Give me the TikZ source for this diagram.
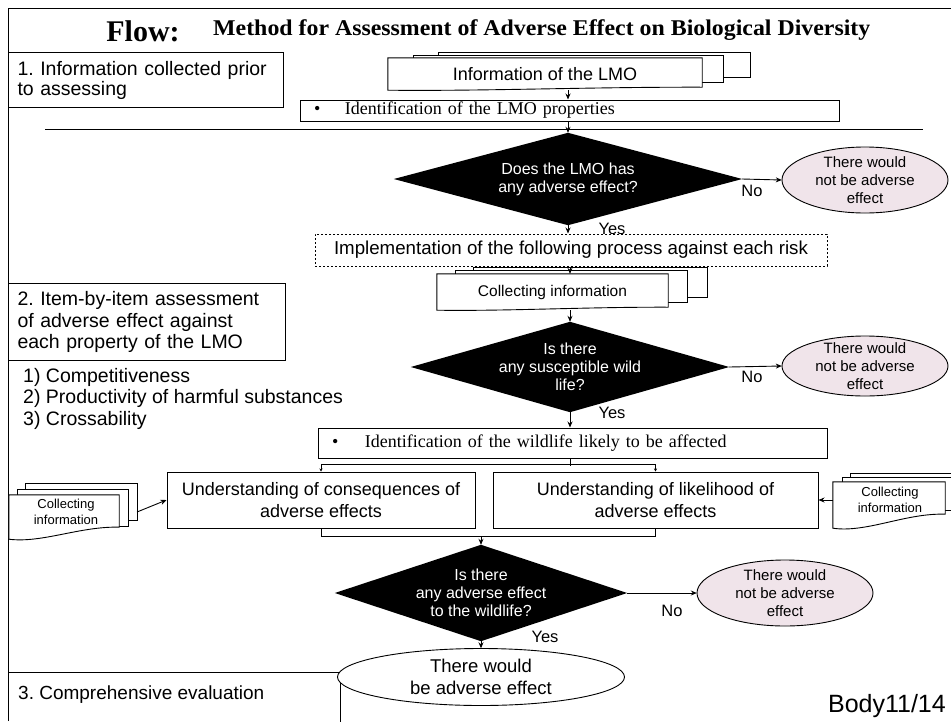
\documentclass[tikz,border=0pt]{standalone}
\usepackage{fontspec}
\setmainfont{Liberation Serif}
\setsansfont{Liberation Sans}
\usetikzlibrary{calc,arrows.meta}
\pgfdeclarelayer{bg}
\pgfsetlayers{bg,main}
\frenchspacing
\definecolor{pinkc}{RGB}{240,228,234}
\newcommand{\docpath}[2]{%
  \draw[ln,fill=white] (#1.north west) -- (#1.north east) -- ($(#1.south east)+(0,-#2)$)
   .. controls ($(#1.south east)!0.35!(#1.south west)+(0,{-1.1*#2})$) and ($(#1.south east)!0.7!(#1.south west)+(0,{0.35*#2})$) .. (#1.south west) -- cycle;}
\tikzset{
  ln/.style={line width=0.9pt},
  arr/.style={line width=0.9pt,-{Stealth[length=6pt,width=5pt]}},
  tinyarr/.style={line width=0.8pt,-{Stealth[length=3pt,width=3pt]}},
  secbox/.style={draw,line width=1pt,fill=white,inner xsep=9pt,inner ysep=0pt,align=left,anchor=north west},
  hold/.style={inner sep=0pt,align=center},
  dmd/.style={hold,text=white,font=\sffamily\fontsize{16}{18}\selectfont},
  ell/.style={hold,font=\sffamily\fontsize{15}{18}\selectfont},
  plain/.style={draw,line width=1pt,fill=white,inner sep=0pt,align=center},
  lab/.style={inner sep=0pt,font=\sffamily\fontsize{16.5}{18}\selectfont},
  small/.style={inner sep=0pt,align=center,font=\sffamily\fontsize{13}{15.5}\selectfont},
}
\begin{document}
\begin{tikzpicture}[x=1pt,y=-1pt]
\useasboundingbox (0,0) rectangle (951,721);
% frame
\begin{pgfonlayer}{bg}
\fill[white] (0,0) rectangle (951,721);
\draw[ln] (8,721) -- (8,8) -- (951,8);
\end{pgfonlayer}
% title
\node[inner sep=0pt,font=\bfseries\fontsize{30}{32}\selectfont] (flow) at (143,31) {Flow:};
\node[inner sep=0pt,anchor=west,font=\bfseries\fontsize{22.5}{24}\selectfont] (ttl) at (213,30) {\scalebox{1.06}[1]{Method for Assessment of Adverse Effect on Biological Diversity}};
% section boxes
\node[secbox,text width=257pt,minimum height=55pt,font=\sffamily\fontsize{19.5}{20}\selectfont] (box1) at (8,52) {1. Information collected prior\\to assessing};
\node[secbox,text width=259pt,minimum height=77pt,font=\sffamily\fontsize{19.5}{21.5}\selectfont] (box2) at (8,283) {2. Item-by-item assessment\\of adverse effect against\\each property of the LMO};
\node[inner sep=0pt,anchor=west,font=\sffamily\fontsize{19.5}{21}\selectfont] (it1) at (23,377) {1) Competitiveness};
\node[inner sep=0pt,anchor=west,font=\sffamily\fontsize{19.5}{21}\selectfont] (it2) at (23,398.5) {2) Productivity of harmful substances};
\node[inner sep=0pt,anchor=west,font=\sffamily\fontsize{19.5}{21}\selectfont] (it3) at (23,420) {3) Crossability};
\begin{pgfonlayer}{bg}
\draw[ln] (8,672) -- (340,672) -- (340,725);
\end{pgfonlayer}
\node[inner sep=0pt,anchor=west,font=\sffamily\fontsize{19}{21}\selectfont] (box3) at (18,695) {3. Comprehensive evaluation};
\node[inner sep=0pt,anchor=east,font=\sffamily\fontsize{25}{27}\selectfont] (body) at (946,706) {Body11/14};
% information of the LMO stack
\node[hold,minimum width=314pt,minimum height=32pt,font=\sffamily\fontsize{18}{20}\selectfont] (info) at (545,74) {Information of the LMO};
\begin{pgfonlayer}{bg}
\draw[ln,fill=white] (438,52) rectangle (750,77);
\draw[ln,fill=white] (413,55) rectangle (723,82);
\docpath{info}{3}
\end{pgfonlayer}
% identification of the LMO properties
\node[draw,line width=1pt,fill=white,inner xsep=14pt,inner ysep=0pt,text width=511pt,minimum height=21pt,align=left,font=\fontsize{18}{19}\selectfont] (ident) at (569.5,110.5) {\makebox[31pt][l]{\textbullet}Identification of the LMO properties};
\draw[ln] (45,129) -- (923,129);
% decision 1
\node[dmd,minimum width=348pt,minimum height=92pt] (d1) at (568,179) {Does the LMO has\\any adverse effect?};
\node[ell,minimum width=166pt,minimum height=66pt] (e1) at (865,180) {There would\\not be adverse\\effect};
\begin{pgfonlayer}{bg}
\fill[black] (d1.north) -- (d1.east) -- (d1.south) -- (d1.west) -- cycle;
\draw[ln,fill=pinkc] (e1.center) ellipse [x radius=83, y radius=33];
\end{pgfonlayer}
\node[lab] (no1) at (752,191) {No};
\node[lab] (yes1) at (612,229) {Yes};
% dashed box
\node[draw,line width=1pt,dash pattern=on 2pt off 2pt,fill=white,inner sep=0pt,minimum width=512pt,minimum height=32pt,font=\sffamily\fontsize{18.7}{20}\selectfont] (dash) at (571,250) {Implementation of the following process against each risk};
% collecting information stack
\node[hold,minimum width=231pt,minimum height=36pt,font=\sffamily\fontsize{15.5}{18}\selectfont] (coll) at (552.5,292) {Collecting information};
\begin{pgfonlayer}{bg}
\draw[ln,fill=white] (473,267) rectangle (707,297);
\draw[ln,fill=white] (455,270) rectangle (687,302);
\docpath{coll}{3}
\end{pgfonlayer}
% decision 2
\node[dmd,minimum width=318pt,minimum height=90pt] (d2) at (570,367) {Is there\\any susceptible wild\\life?};
\node[ell,minimum width=166pt,minimum height=60pt] (e2) at (865,366) {There would\\not be adverse\\effect};
\begin{pgfonlayer}{bg}
\fill[black] (d2.north) -- (d2.east) -- (d2.south) -- (d2.west) -- cycle;
\draw[ln,fill=pinkc] (e2.center) ellipse [x radius=83, y radius=30];
\end{pgfonlayer}
\node[lab] (no2) at (752,377) {No};
\node[lab] (yes2) at (612,413) {Yes};
% identification of wildlife
\node[draw,line width=1pt,fill=white,inner xsep=14pt,inner ysep=0pt,text width=481pt,minimum height=30pt,align=left,font=\fontsize{18}{19}\selectfont] (wild) at (572.5,443) {\makebox[33pt][l]{\textbullet}Identification of the wildlife likely to be affected};
% understanding boxes
\node[plain,minimum width=308pt,minimum height=56pt,font=\sffamily\fontsize{18}{22}\selectfont] (und1) at (321,500) {Understanding of consequences of\\adverse effects};
\node[plain,minimum width=325pt,minimum height=56pt,font=\sffamily\fontsize{18}{22}\selectfont] (und2) at (655.5,500) {Understanding of likelihood of\\adverse effects};
% left collecting stack
\node[hold,minimum width=110pt,minimum height=44pt] (colll) at (64,517) {};
\begin{pgfonlayer}{bg}
\draw[ln,fill=white] (25,483) rectangle (137,520);
\draw[ln,fill=white] (17,489) rectangle (128,526);
\docpath{colll}{12}
\end{pgfonlayer}
\node[small] (colllt) at (66,512) {Collecting\\information};
\coordinate (clout) at (137,512);
% right collecting stack
\node[hold,minimum width=112pt,minimum height=46pt] (collr) at (889,505) {};
\begin{pgfonlayer}{bg}
\draw[ln,fill=white] (850,473) rectangle (956,505);
\draw[ln,fill=white] (842,477) rectangle (956,510);
\docpath{collr}{14}
\end{pgfonlayer}
\node[small] (collrt) at (890,500) {Collecting\\information};
% decision 3
\node[dmd,minimum width=292pt,minimum height=96pt] (d3) at (481,593) {Is there\\any adverse effect\\to the wildlife?};
\node[ell,minimum width=176pt,minimum height=66pt] (e3) at (785,593) {There would\\not be adverse\\effect};
\node[hold,minimum width=287pt,minimum height=57pt,font=\sffamily\fontsize{18.5}{22}\selectfont] (e4) at (481,677) {There would\\be adverse effect};
\begin{pgfonlayer}{bg}
\fill[black] (d3.north) -- (d3.east) -- (d3.south) -- (d3.west) -- cycle;
\draw[ln,fill=pinkc] (e3.center) ellipse [x radius=88, y radius=33];
\draw[ln,fill=white] (e4.center) ellipse [x radius=143.5, y radius=28.5];
\end{pgfonlayer}
\node[lab] (no3) at (672,611) {No};
\node[lab] (yes3) at (545,637) {Yes};
% connectors
\coordinate (wb) at ($(wild.south -| d2.south)+(0,7)$);
\coordinate (ub) at ($(und1.south)+(0,8)$);
\draw[arr] (info.south -| d1.north) -- (ident.north -| d1.north);
\draw[arr] (ident.south -| d1.north) -- (d1.north);
\draw[arr] (d1.east) -- (e1.west);
\draw[arr] (d1.south) -- (dash.north -| d1.south);
\draw[arr] (dash.south -| d2.north) -- (coll.north -| d2.north);
\draw[arr] (coll.south -| d2.north) -- (d2.north);
\draw[arr] (d2.east) -- (e2.west);
\draw[arr] (d2.south) -- (wild.north -| d2.south);
\draw[ln] (wild.south -| d2.south) -- (wb);
\draw[ln] ($(und1.north)+(0,-7)$) -- ($(und2.north)+(0,-7)$);
\draw[tinyarr] ($(und1.north)+(0,-7)$) -- (und1.north);
\draw[tinyarr] ($(und2.north)+(0,-7)$) -- (und2.north);
\draw[ln] (und1.south) -- (ub) -- ($(und2.south)+(0,8)$) -- (und2.south);
\draw[arr] (ub -| d3.north) -- (d3.north);
\draw[arr] (clout) -- (und1.west);
\draw[arr] (collr.west |- und2.east) -- (und2.east);
\draw[arr] (d3.east) -- (e3.west);
\draw[arr] (d3.south) -- (e4.north);
\end{tikzpicture}
\end{document}
